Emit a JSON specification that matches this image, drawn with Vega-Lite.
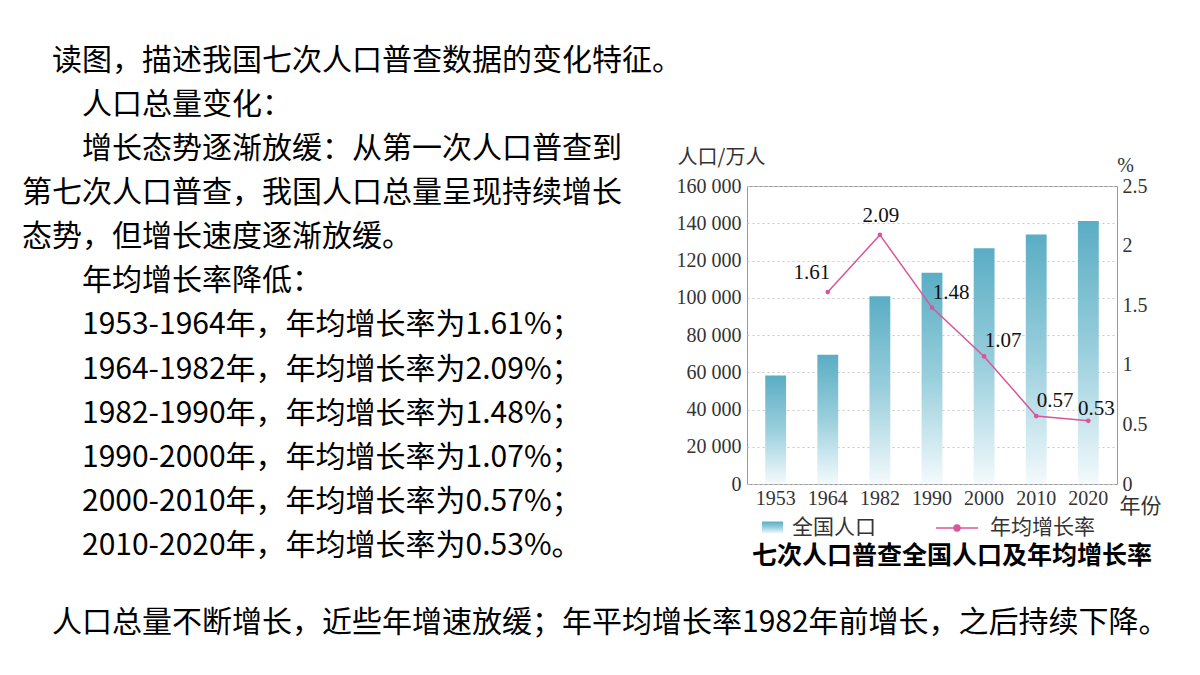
{
  "$schema": "https://vega.github.io/schema/vega-lite/v6.json",
  "width": 370,
  "height": 298,
  "autosize": {"type": "none"},
  "padding": {"left": 747, "top": 186, "right": 83, "bottom": 191},
  "background": "#ffffff",
  "title": {
    "text": [
      "\u200b　读图，描述我国七次人口普查数据的变化特征。",
      "\u200b　　人口总量变化：",
      "\u200b　　增长态势逐渐放缓：从第一次人口普查到",
      "第七次人口普查，我国人口总量呈现持续增长",
      "态势，但增长速度逐渐放缓。",
      "\u200b　　年均增长率降低：",
      "\u200b　　1953-1964年，年均增长率为1.61%；",
      "\u200b　　1964-1982年，年均增长率为2.09%；",
      "\u200b　　1982-1990年，年均增长率为1.48%；",
      "\u200b　　1990-2000年，年均增长率为1.07%；",
      "\u200b　　2000-2010年，年均增长率为0.57%；",
      "\u200b　　2010-2020年，年均增长率为0.53%。"
    ],
    "subtitle": "\u200b　人口总量不断增长，近些年增速放缓；年平均增长率1982年前增长，之后持续下降。",
    "orient": "top",
    "anchor": "start",
    "frame": "group",
    "offset": -491,
    "dx": -725,
    "font": "Noto Sans CJK SC",
    "fontSize": 30,
    "fontWeight": "normal",
    "color": "#000000",
    "lineHeight": 44.1,
    "subtitleFont": "Noto Sans CJK SC",
    "subtitleFontSize": 30,
    "subtitleColor": "#000000",
    "subtitlePadding": 47
  },
  "data": {
    "values": [
      {"year": "1953", "pop": 58260, "rate": null},
      {"year": "1964", "pop": 69458, "rate": 1.61},
      {"year": "1982", "pop": 100818, "rate": 2.09},
      {"year": "1990", "pop": 113368, "rate": 1.48},
      {"year": "2000", "pop": 126583, "rate": 1.07},
      {"year": "2010", "pop": 133972, "rate": 0.57},
      {"year": "2020", "pop": 141178, "rate": 0.53}
    ]
  },
  "encoding": {
    "x": {
      "field": "year",
      "type": "ordinal",
      "sort": null,
      "scale": {"paddingInner": 0.6, "paddingOuter": 0.35},
      "axis": {
        "title": "年份",
        "titleFont": "Noto Sans CJK SC",
        "titleFontSize": 21,
        "titleFontWeight": "normal",
        "titleColor": "#333333",
        "titleX": 393,
        "titleY": 22,
        "titleAlign": "center",
        "titleBaseline": "middle",
        "labelAngle": 0,
        "labelFont": "Liberation Serif",
        "labelFontSize": 20,
        "labelColor": "#333333",
        "labelPadding": 4,
        "domain": false,
        "ticks": false
      }
    }
  },
  "layer": [
    {
      "mark": {
        "type": "bar",
        "fill": {
          "gradient": "linear",
          "x1": 0, "y1": 0, "x2": 0, "y2": 1,
          "stops": [
            {"offset": 0, "color": "#5aadc4"},
            {"offset": 0.5, "color": "#9acfdd"},
            {"offset": 1, "color": "#f3fafc"}
          ]
        }
      },
      "encoding": {
        "y": {
          "field": "pop",
          "type": "quantitative",
          "scale": {"domain": [0, 160000], "nice": false},
          "axis": {
            "title": "人口/万人",
            "titleFont": "Noto Sans CJK SC",
            "titleFontSize": 20,
            "titleFontWeight": "normal",
            "titleColor": "#333333",
            "titleAngle": 0,
            "titleX": -26,
            "titleY": -29,
            "titleAlign": "center",
            "titleBaseline": "middle",
            "values": [0, 20000, 40000, 60000, 80000, 100000, 120000, 140000, 160000],
            "labelExpr": "replace(format(datum.value, ','), ',', ' ')",
            "labelFont": "Liberation Serif",
            "labelFontSize": 20,
            "labelColor": "#333333",
            "labelPadding": 6,
            "domain": false,
            "ticks": false,
            "grid": true,
            "gridColor": "#c8c8c8",
            "gridDash": [2, 3],
            "gridWidth": 1
          }
        },
        "opacity": {
          "datum": "全国人口",
          "type": "nominal",
          "scale": {"range": [1]},
          "legend": {
            "orient": "none",
            "legendX": 5,
            "legendY": 331,
            "title": "七次人口普查全国人口及年均增长率",
            "titleOrient": "bottom",
            "titleAnchor": "start",
            "titleFont": "Noto Sans CJK SC",
            "titleFontSize": 25,
            "titleFontWeight": "bold",
            "titleColor": "#000000",
            "titlePadding": 6,
            "titleLimit": 600,
            "symbolOffset": 10,
            "symbolType": "M-1,-0.57H1V0.57H-1Z",
            "symbolSize": 441,
            "symbolStrokeWidth": 0,
            "labelFont": "Noto Sans CJK SC",
            "labelFontSize": 21,
            "labelColor": "#333333",
            "labelOffset": 9,
            "padding": 0,
            "encode": {
              "symbols": {
                "update": {
                  "fill": {
                    "value": {
                      "gradient": "linear",
                      "x1": 0, "y1": 0, "x2": 0, "y2": 1,
                      "stops": [
                        {"offset": 0, "color": "#5aadc4"},
                        {"offset": 1, "color": "#c4e4ed"}
                      ]
                    }
                  },
                  "opacity": {"value": 1}
                }
              }
            }
          }
        }
      }
    },
    {
      "transform": [{"filter": "datum.rate != null"}],
      "mark": {"type": "line", "strokeWidth": 1.5},
      "encoding": {
        "y": {
          "field": "rate",
          "type": "quantitative",
          "scale": {"domain": [0, 2.5], "nice": false},
          "axis": {
            "orient": "right",
            "title": "%",
            "titleFont": "Liberation Serif",
            "titleFontSize": 20,
            "titleFontWeight": "normal",
            "titleColor": "#333333",
            "titleAngle": 0,
            "titleX": 8,
            "titleY": -21,
            "titleAlign": "center",
            "titleBaseline": "middle",
            "values": [0, 0.5, 1, 1.5, 2, 2.5],
            "labelExpr": "toString(datum.value)",
            "labelFont": "Liberation Serif",
            "labelFontSize": 20,
            "labelColor": "#333333",
            "labelPadding": 5,
            "domain": false,
            "ticks": false,
            "grid": false
          }
        },
        "stroke": {
          "datum": "年均增长率",
          "type": "nominal",
          "scale": {"range": ["#d9559b"]},
          "legend": {
            "orient": "none",
            "legendX": 188,
            "legendY": 320,
            "title": null,
            "symbolType": "M-1,0H1M0.14,0A0.14,0.14,0,1,1,-0.14,0A0.14,0.14,0,1,1,0.14,0Z",
            "symbolSize": 1764,
            "symbolStrokeWidth": 1.5,
            "labelFont": "Noto Sans CJK SC",
            "labelFontSize": 21,
            "labelColor": "#333333",
            "labelOffset": 11,
            "padding": 0,
            "encode": {
              "symbols": {
                "update": {
                  "fill": {"value": "#d9559b"},
                  "stroke": {"value": "#d9559b"}
                }
              }
            }
          }
        }
      }
    },
    {
      "transform": [{"filter": "datum.rate != null"}],
      "mark": {"type": "point", "filled": true, "color": "#d9559b", "size": 22, "opacity": 1},
      "encoding": {
        "y": {"field": "rate", "type": "quantitative", "scale": {"domain": [0, 2.5], "nice": false}, "axis": null}
      }
    },
    {
      "transform": [{"filter": "datum.year == '1964'"}],
      "mark": {"type": "text", "font": "Liberation Serif", "fontSize": 21, "color": "#111111", "dx": -16, "dy": -19},
      "encoding": {
        "y": {"field": "rate", "type": "quantitative", "scale": {"domain": [0, 2.5], "nice": false}, "axis": null},
        "text": {"field": "rate", "type": "quantitative", "format": ".2f"}
      }
    },
    {
      "transform": [{"filter": "datum.year == '1982'"}],
      "mark": {"type": "text", "font": "Liberation Serif", "fontSize": 21, "color": "#111111", "dx": 1, "dy": -19},
      "encoding": {
        "y": {"field": "rate", "type": "quantitative", "scale": {"domain": [0, 2.5], "nice": false}, "axis": null},
        "text": {"field": "rate", "type": "quantitative", "format": ".2f"}
      }
    },
    {
      "transform": [{"filter": "datum.year == '1990' || datum.year == '2000' || datum.year == '2010'"}],
      "mark": {"type": "text", "font": "Liberation Serif", "fontSize": 21, "color": "#111111", "dx": 19, "dy": -15},
      "encoding": {
        "y": {"field": "rate", "type": "quantitative", "scale": {"domain": [0, 2.5], "nice": false}, "axis": null},
        "text": {"field": "rate", "type": "quantitative", "format": ".2f"}
      }
    },
    {
      "transform": [{"filter": "datum.year == '2020'"}],
      "mark": {"type": "text", "font": "Liberation Serif", "fontSize": 21, "color": "#111111", "dx": 8, "dy": -12},
      "encoding": {
        "y": {"field": "rate", "type": "quantitative", "scale": {"domain": [0, 2.5], "nice": false}, "axis": null},
        "text": {"field": "rate", "type": "quantitative", "format": ".2f"}
      }
    }
  ],
  "resolve": {"scale": {"y": "independent"}},
  "config": {
    "view": {"stroke": "#9a9a9a", "strokeWidth": 1}
  }
}
